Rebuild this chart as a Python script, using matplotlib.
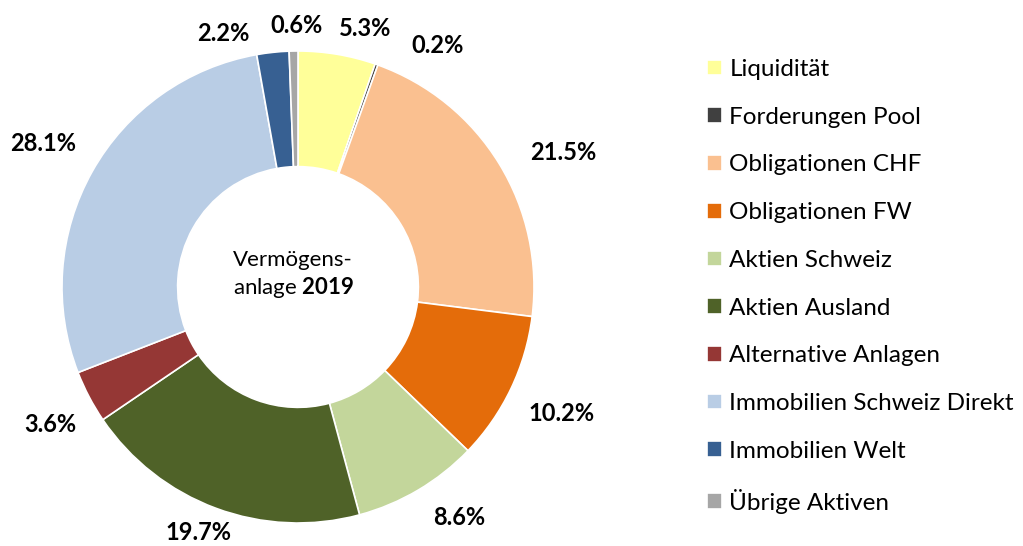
import matplotlib
matplotlib.use("Agg")
import matplotlib.pyplot as plt
import numpy as np

plt.rcParams['font.family'] = ['Lato', 'DejaVu Sans']
plt.rcParams['mathtext.fontset'] = 'custom'
plt.rcParams['mathtext.rm'] = 'Lato'
plt.rcParams['mathtext.bf'] = 'Lato:bold'

categories = ["Liquidität", "Forderungen Pool", "Obligationen CHF", "Obligationen FW",
              "Aktien Schweiz", "Aktien Ausland", "Alternative Anlagen",
              "Immobilien Schweiz Direkt", "Immobilien Welt", "Übrige Aktiven"]
values = [5.3, 0.2, 21.5, 10.2, 8.6, 19.7, 3.6, 28.1, 2.2, 0.6]
colors = ["#FFFF99", "#404040", "#FAC090", "#E46C0A", "#C3D69B", "#4F6228",
          "#953735", "#B9CDE5", "#376092", "#A6A6A6"]

# label placement (angle override in degrees, radius factor)
label_angle = {0: 75.5, 1: 60.0, 2: 26.8, 4: -55.0, 5: -112.0, 6: -151.0, 8: 106.5, 9: 90.3}
label_radius = [1.13, 1.18, 1.26, 1.24, 1.19, 1.12, 1.20, 1.24, 1.12, 1.11]

W, H = 1023, 546
fig = plt.figure(figsize=(W / 100, H / 100), dpi=100)
R = 236.0
cx, cy = 298.0, 546 - 287.0
axw = 620
ax = fig.add_axes([0, 0, axw / W, 1])

wedges, _ = ax.pie(values, colors=colors, startangle=90, counterclock=False,
                   radius=1.0, wedgeprops=dict(width=0.49, edgecolor='white', linewidth=1.2))
for w in wedges:
    w.set_clip_on(False)

ax.set_xlim(-cx / R, (axw - cx) / R)
ax.set_ylim(-cy / R, (H - cy) / R)
ax.set_aspect('auto')
ax.set_axis_off()

cum = np.cumsum([0] + values[:-1])
for i, v in enumerate(values):
    mid = 90 - (cum[i] + v / 2) * 3.6
    ang = np.deg2rad(label_angle.get(i, mid))
    r = label_radius[i]
    ax.text(r * np.cos(ang), r * np.sin(ang), f"{v:.1f}%", ha='center', va='center',
            fontsize=17, fontweight='bold', color='black', clip_on=False)

ax.text(-0.02, 0.115, "Vermögens-", ha='center', va='center', fontsize=16)
ax.text(-0.02, 0.0, "anlage $\\mathbf{2019}$", ha='center', va='center', fontsize=16)

leg = fig.legend(wedges, categories, loc='upper left', bbox_to_anchor=(707 / W, 1 - 59 / H),
                 frameon=False, fontsize=17.5, handlelength=0.62, handleheight=0.62,
                 handletextpad=0.3, labelspacing=1.1, borderaxespad=0, borderpad=0)

fig.savefig("out.png", dpi=100)
